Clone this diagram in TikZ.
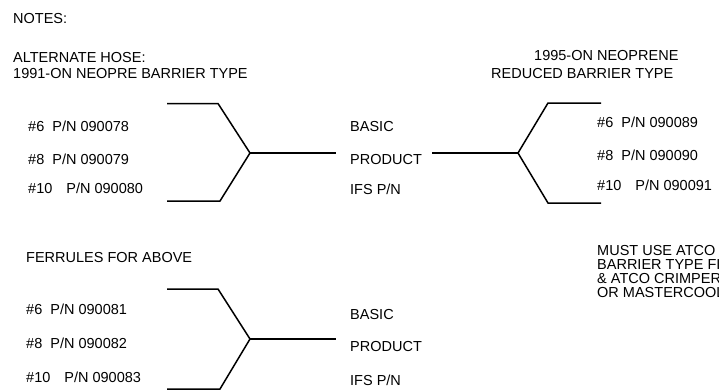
\documentclass[tikz,border=0pt]{standalone}
\usepackage{fontspec}
\setmainfont{Liberation Sans}
\begin{document}
\begin{tikzpicture}[x=1pt,y=-1pt,
  lbl/.style={anchor=base west,inner sep=0pt,font=\fontsize{14.5}{14.5}\selectfont},
  fork/.style={line width=1.5pt,line join=miter}]
\useasboundingbox (0,0) rectangle (719,391);
% headers
\node[lbl] (notes) at (13,23) {NOTES:};
\node[lbl] (alt1) at (13,62) {ALTERNATE HOSE:};
\node[lbl] (alt2) at (13,78) {1991-ON NEOPRE BARRIER TYPE};
\node[lbl] (red1) at (534,60) {1995-ON NEOPRENE};
\node[lbl] (red2) at (491,78) {REDUCED BARRIER TYPE};
\node[lbl] (fer) at (26,262) {FERRULES FOR ABOVE};
% upper left list
\node[lbl] (a6) at (28,131) {\#6\ \ P/N 090078};
\node[lbl] (a8) at (28,164) {\#8\ \ P/N 090079};
\node[lbl] (a10) at (28,193) {\#10\hspace{14pt}P/N 090080};
% middle upper
\node[lbl] (b1) at (350,131) {BASIC};
\node[lbl] (p1) at (350,164) {PRODUCT};
\node[lbl] (i1) at (350,194) {IFS P/N};
% right list
\node[lbl] (r6) at (597,127) {\#6\ \ P/N 090089};
\node[lbl] (r8) at (597,160) {\#8\ \ P/N 090090};
\node[lbl] (r10) at (597,190) {\#10\hspace{14pt}P/N 090091};
% lower left list
\node[lbl] (f6) at (26,314) {\#6\ \ P/N 090081};
\node[lbl] (f8) at (26,348) {\#8\ \ P/N 090082};
\node[lbl] (f10) at (26,382) {\#10\hspace{14pt}P/N 090083};
% middle lower
\node[lbl] (b2) at (350,319) {BASIC};
\node[lbl] (p2) at (350,351) {PRODUCT};
\node[lbl] (i2) at (350,385) {IFS P/N};
% note (cut at the picture edge, as in the reference)
\begin{scope}
\clip (0,0) rectangle (719,391);
\node[lbl] (n1) at (597,255) {MUST USE ATCO};
\node[lbl] (n2) at (597,269.5) {BARRIER TYPE FITTINGS};
\node[lbl] (n3) at (597,283.5) {\& ATCO CRIMPER};
\node[lbl] (n4) at (597,297.5) {OR MASTERCOOL};
\end{scope}
% upper-left fork
\coordinate (ua) at (167,103.5);
\coordinate (ub) at (218,103.5);
\coordinate (uj) at (250,153);
\coordinate (uc) at (220,201);
\coordinate (ud) at (167,201);
\coordinate (ue) at (336,153);
\draw[fork] (ua) -- (ub) -- (uj) -- (uc) -- (ud);
\draw[fork] (uj) -- (ue);
% right fork
\coordinate (ra) at (601,103);
\coordinate (rb) at (548,103);
\coordinate (rj) at (518,153);
\coordinate (rc) at (548,203);
\coordinate (rd) at (601,203);
\coordinate (re) at (432,153);
\draw[fork] (ra) -- (rb) -- (rj) -- (rc) -- (rd);
\draw[fork] (rj) -- (re);
% lower-left fork
\coordinate (la) at (167,289);
\coordinate (lb) at (218,289);
\coordinate (lj) at (250,339);
\coordinate (lc) at (220,389);
\coordinate (ld) at (167,389);
\coordinate (le) at (336,339);
\draw[fork] (la) -- (lb) -- (lj) -- (lc) -- (ld);
\draw[fork] (lj) -- (le);
\end{tikzpicture}
\end{document}
